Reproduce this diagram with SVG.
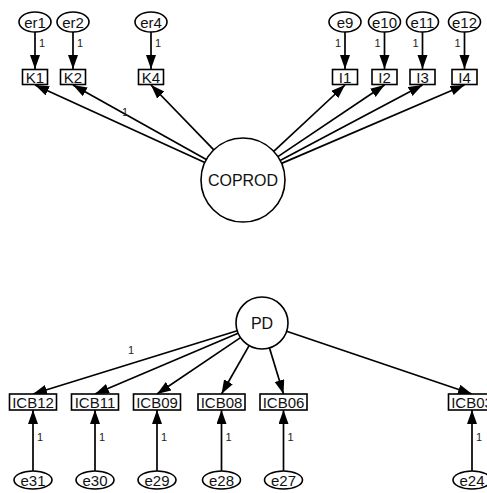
<svg xmlns="http://www.w3.org/2000/svg" width="487" height="493" viewBox="0 0 487 493">
<style>
.n{fill:#fff;stroke:#000;stroke-width:1.6}
.t{font-family:"Liberation Sans",Arial,sans-serif;font-size:15px;fill:#111;text-anchor:middle;dominant-baseline:central}
.c{font-size:16px}
.l{font-family:"Liberation Sans",Arial,sans-serif;font-size:11px;fill:#222;text-anchor:middle}
.e{stroke:#000;stroke-width:1.7;fill:none;marker-end:url(#ah)}
</style>
<defs>
<marker id="ah" markerUnits="userSpaceOnUse" markerWidth="15" markerHeight="11" refX="14" refY="5" orient="auto">
<path d="M0,0 L14,5 L0,10 z" fill="#000"/>
</marker>
</defs>
<rect width="487" height="493" fill="#fff"/>
<g id="connectors">
<line class="e" x1="35" y1="32" x2="35" y2="69"/>
<line class="e" x1="73" y1="32" x2="73" y2="69"/>
<line class="e" x1="151" y1="32" x2="151" y2="69"/>
<line class="e" x1="345" y1="32" x2="345" y2="69"/>
<line class="e" x1="384.5" y1="32" x2="384.5" y2="69"/>
<line class="e" x1="422.5" y1="32" x2="422.5" y2="69"/>
<line class="e" x1="464.5" y1="32" x2="464.5" y2="69"/>
<line class="e" x1="204.8" y1="162.6" x2="35" y2="85"/>
<line class="e" x1="206.3" y1="159.5" x2="73" y2="85"/>
<line class="e" x1="213.8" y1="149.8" x2="151" y2="85"/>
<line class="e" x1="273.7" y1="151.4" x2="345" y2="85"/>
<line class="e" x1="277.9" y1="156.6" x2="384.5" y2="85"/>
<line class="e" x1="280.1" y1="160.4" x2="422.5" y2="85"/>
<line class="e" x1="281.6" y1="163.4" x2="464.5" y2="85"/>
<line class="e" x1="237.2" y1="330.7" x2="33" y2="394"/>
<line class="e" x1="238.1" y1="333.2" x2="95" y2="394"/>
<line class="e" x1="240.5" y1="337.6" x2="157" y2="394"/>
<line class="e" x1="249.1" y1="345.6" x2="221.5" y2="394"/>
<line class="e" x1="269.5" y1="347.9" x2="283.5" y2="394"/>
<line class="e" x1="286.6" y1="331.3" x2="472" y2="394"/>
<line class="e" x1="33" y1="471" x2="33" y2="410"/>
<line class="e" x1="95" y1="471" x2="95" y2="410"/>
<line class="e" x1="157" y1="471" x2="157" y2="410"/>
<line class="e" x1="221.5" y1="471" x2="221.5" y2="410"/>
<line class="e" x1="283.5" y1="471" x2="283.5" y2="410"/>
<line class="e" x1="472" y1="471" x2="472" y2="410"/>
<text class="l" x="42" y="47">1</text>
<text class="l" x="80" y="47">1</text>
<text class="l" x="158" y="47">1</text>
<text class="l" x="338" y="47">1</text>
<text class="l" x="377.5" y="47">1</text>
<text class="l" x="415.5" y="47">1</text>
<text class="l" x="457.5" y="47">1</text>
<text class="l" x="125" y="116">1</text>
<text class="l" x="131" y="354">1</text>
<text class="l" x="40" y="441">1</text>
<text class="l" x="102" y="441">1</text>
<text class="l" x="164" y="441">1</text>
<text class="l" x="228.5" y="441">1</text>
<text class="l" x="290.5" y="441">1</text>
<text class="l" x="479" y="441">1</text>
</g>
<g id="er1"><ellipse class="n" cx="35" cy="22" rx="16" ry="10"/><text class="t" x="35" y="22">er1</text></g>
<g id="er2"><ellipse class="n" cx="73" cy="22" rx="16" ry="10"/><text class="t" x="73" y="22">er2</text></g>
<g id="er4"><ellipse class="n" cx="151" cy="22" rx="16" ry="10"/><text class="t" x="151" y="22">er4</text></g>
<g id="e9"><ellipse class="n" cx="345" cy="22" rx="16" ry="10"/><text class="t" x="345" y="22">e9</text></g>
<g id="e10"><ellipse class="n" cx="384.5" cy="22" rx="16" ry="10"/><text class="t" x="384.5" y="22">e10</text></g>
<g id="e11"><ellipse class="n" cx="422.5" cy="22" rx="16" ry="10"/><text class="t" x="422.5" y="22">e11</text></g>
<g id="e12"><ellipse class="n" cx="464.5" cy="22" rx="16" ry="10"/><text class="t" x="464.5" y="22">e12</text></g>
<g id="K1"><rect class="n" x="22.5" y="69.5" width="25" height="15"/><text class="t" x="35" y="77">K1</text></g>
<g id="K2"><rect class="n" x="60.5" y="69.5" width="25" height="15"/><text class="t" x="73" y="77">K2</text></g>
<g id="K4"><rect class="n" x="138.5" y="69.5" width="25" height="15"/><text class="t" x="151" y="77">K4</text></g>
<g id="I1"><rect class="n" x="332.5" y="69.5" width="25" height="15"/><text class="t" x="345" y="77">I1</text></g>
<g id="I2"><rect class="n" x="372" y="69.5" width="25" height="15"/><text class="t" x="384.5" y="77">I2</text></g>
<g id="I3"><rect class="n" x="410" y="69.5" width="25" height="15"/><text class="t" x="422.5" y="77">I3</text></g>
<g id="I4"><rect class="n" x="452" y="69.5" width="25" height="15"/><text class="t" x="464.5" y="77">I4</text></g>
<g id="COPROD"><circle class="n" cx="243" cy="180" r="42"/><text class="t c" x="243" y="180">COPROD</text></g>
<g id="PD"><circle class="n" cx="262" cy="323" r="26"/><text class="t c" x="262" y="323">PD</text></g>
<g id="ICB12"><rect class="n" x="9.5" y="394" width="47" height="16"/><text class="t" x="33" y="402">ICB12</text></g>
<g id="ICB11"><rect class="n" x="71.5" y="394" width="47" height="16"/><text class="t" x="95" y="402">ICB11</text></g>
<g id="ICB09"><rect class="n" x="133.5" y="394" width="47" height="16"/><text class="t" x="157" y="402">ICB09</text></g>
<g id="ICB08"><rect class="n" x="198" y="394" width="47" height="16"/><text class="t" x="221.5" y="402">ICB08</text></g>
<g id="ICB06"><rect class="n" x="260" y="394" width="47" height="16"/><text class="t" x="283.5" y="402">ICB06</text></g>
<g id="ICB03"><rect class="n" x="448.5" y="394" width="47" height="16"/><text class="t" x="472" y="402">ICB03</text></g>
<g id="e31"><ellipse class="n" cx="33" cy="480" rx="19" ry="9"/><text class="t" x="33" y="480">e31</text></g>
<g id="e30"><ellipse class="n" cx="95" cy="480" rx="19" ry="9"/><text class="t" x="95" y="480">e30</text></g>
<g id="e29"><ellipse class="n" cx="157" cy="480" rx="19" ry="9"/><text class="t" x="157" y="480">e29</text></g>
<g id="e28"><ellipse class="n" cx="221.5" cy="480" rx="19" ry="9"/><text class="t" x="221.5" y="480">e28</text></g>
<g id="e27"><ellipse class="n" cx="283.5" cy="480" rx="19" ry="9"/><text class="t" x="283.5" y="480">e27</text></g>
<g id="e24"><ellipse class="n" cx="472" cy="480" rx="19" ry="9"/><text class="t" x="472" y="480">e24</text></g>
</svg>
